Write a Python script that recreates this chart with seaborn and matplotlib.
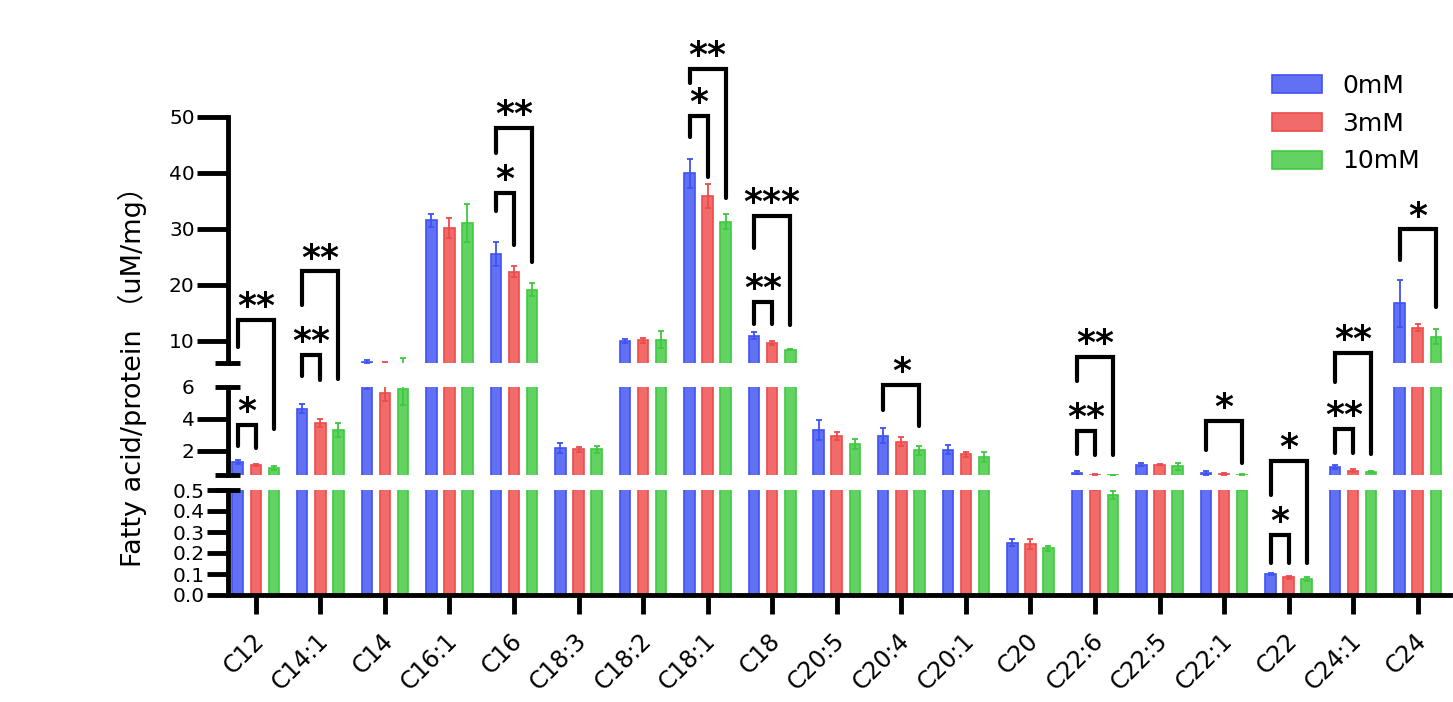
import numpy as np
import pandas as pd
import matplotlib
matplotlib.use("Agg")
import matplotlib.pyplot as plt
import matplotlib.transforms as mtransforms
from matplotlib.colors import to_rgba
import seaborn as sns

# Fatty acid species on the x axis
categories = ["C12", "C14:1", "C14", "C16:1", "C16", "C18:3", "C18:2", "C18:1", "C18",
              "C20:5", "C20:4", "C20:1", "C20", "C22:6", "C22:5", "C22:1", "C22", "C24:1", "C24"]
groups = ["0mM", "3mM", "10mM"]

# Mean values (uM/mg)
mean_0mM = [1.30, 4.65, 6.25, 31.5, 25.5, 2.17, 9.9, 39.9, 10.9,
            3.31, 2.95, 2.08, 0.249, 0.65, 1.15, 0.62, 0.099, 1.00, 16.7]
mean_3mM = [1.11, 3.73, 5.60, 30.2, 22.3, 2.10, 10.05, 35.9, 9.58,
            2.95, 2.57, 1.79, 0.241, 0.53, 1.15, 0.56, 0.084, 0.78, 12.3]
mean_10mM = [0.94, 3.31, 5.85, 31.1, 19.1, 2.10, 10.2, 31.3, 8.4,
             2.42, 2.04, 1.62, 0.222, 0.476, 1.05, 0.52, 0.076, 0.67, 10.7]

# Error bar half-lengths
err_0mM = [0.11, 0.27, 0.35, 1.2, 2.2, 0.30, 0.4, 2.6, 0.65,
           0.64, 0.47, 0.28, 0.016, 0.10, 0.11, 0.11, 0.004, 0.15, 4.2]
err_3mM = [0.05, 0.26, 0.5, 1.8, 1.0, 0.15, 0.45, 2.1, 0.36,
           0.25, 0.28, 0.17, 0.024, 0.03, 0.05, 0.04, 0.008, 0.07, 0.6]
err_10mM = [0.15, 0.45, 1.0, 3.4, 1.2, 0.22, 1.6, 1.4, 0.1,
            0.30, 0.26, 0.32, 0.013, 0.02, 0.21, 0.02, 0.008, 0.06, 1.3]

# Significance brackets: (category, bar i, bar j, top, left leg end, right leg end, label)
# heights are on the broken axis; a tuple forces the segment used for that height
brackets = [
    (0, 0, 1, 3.65, 2.32, 2.19, "*"),
    (0, 0, 2, 13.75, 8.93, 3.40, "**"),
    (1, 0, 2, 22.4, 16.4, ("mid", 6.51), "**"),
    (1, 0, 1, 7.5, ("top", 3.6), ("top", 2.9), "**"),
    (4, 0, 1, 36.4, 33.1, 27.1, "*"),
    (4, 0, 2, 48.0, 43.6, 24.05, "**"),
    (7, 0, 1, 50.2, 46.4, 39.3, "*"),
    (7, 0, 2, 58.6, 56.1, 35.5, "**"),
    (8, 0, 2, 32.3, 26.55, 12.86, "***"),
    (8, 0, 1, 17.0, 13.04, 13.04, "**"),
    (10, 0, 2, ("mid", 6.13), 4.58, 3.59, "*"),
    (13, 0, 2, 7.08, ("mid", 6.38), 1.75, "**"),
    (13, 0, 1, 3.27, 1.79, 1.75, "**"),
    (15, 0, 2, 3.9, 2.04, 1.22, "*"),
    (16, 0, 2, 1.37, ("bot", 0.476), 0.151, "*"),
    (16, 0, 1, 0.286, 0.154, 0.154, "*"),
    (17, 0, 2, 7.8, ("mid", 6.3), 1.83, "**"),
    (17, 0, 1, 3.38, 1.89, 1.89, "**"),
    (18, 0, 2, 29.9, 24.5, 15.95, "*"),
]

sns.set_style("ticks")
plt.rcParams["font.family"] = ["DejaVu Sans", "Noto Sans CJK SC"]
plt.rcParams["text.color"] = "black"
plt.rcParams["axes.edgecolor"] = "black"
plt.rcParams["xtick.color"] = "black"
plt.rcParams["ytick.color"] = "black"

colors = {"0mM": "#3f52f2", "3mM": "#ee4a4a", "10mM": "#3fc93f"}
means = {"0mM": mean_0mM, "3mM": mean_3mM, "10mM": mean_10mM}
errs = {"0mM": err_0mM, "3mM": err_3mM, "10mM": err_10mM}

df = pd.DataFrame({
    "fatty_acid": categories * 3,
    "group": np.repeat(groups, len(categories)),
    "value": mean_0mM + mean_3mM + mean_10mM,
})

W, H = 1453, 702
fig = plt.figure(figsize=(W / 100, H / 100), dpi=100)
left, width = 228 / W, 1222 / W


def rect(y_top, y_bot):
    return [left, 1 - y_bot / H, width, (y_bot - y_top) / H]


ax_top = fig.add_axes(rect(117, 363))
ax_mid = fig.add_axes(rect(387, 475))
ax_bot = fig.add_axes(rect(490, 595))
segments = {"top": ax_top, "mid": ax_mid, "bot": ax_bot}
limits = {"top": (6, 50), "mid": (0.5, 6), "bot": (0, 0.5)}

bar_containers = {}
for name, ax in segments.items():
    sns.barplot(data=df, x="fatty_acid", y="value", hue="group", hue_order=groups,
                palette=colors, errorbar=None, width=0.84, gap=0.42, legend=False, ax=ax)
    bars = list(ax.containers)
    for grp, cont in zip(groups, bars):
        for patch in cont:
            patch.set_facecolor(to_rgba(colors[grp], 0.82))
            patch.set_edgecolor(colors[grp])
            patch.set_linewidth(1.2)
        xs = [p.get_x() + p.get_width() / 2 for p in cont]
        ax.errorbar(xs, means[grp], yerr=errs[grp], fmt="none", ecolor=colors[grp],
                    elinewidth=1.3, capsize=2.5, capthick=1.3)
    bar_containers[name] = bars
    ax.patch.set_visible(False)
    ax.set_xlim(-0.43, len(categories) - 0.5)
    ax.set_ylim(*limits[name])
    ax.set_xlabel("")
    ax.set_ylabel("")
    ax.spines["left"].set_linewidth(3.5)
    ax.spines["bottom"].set_linewidth(3.5)
    ax.tick_params(axis="y", length=22, width=3.5, labelsize=14.5, pad=2)
    if name != "bot":
        sns.despine(ax=ax, bottom=True)
        ax.tick_params(axis="x", bottom=False, labelbottom=False)
    else:
        sns.despine(ax=ax)

ax_top.set_yticks([10, 20, 30, 40, 50])
ax_mid.set_yticks([2, 4, 6])
ax_mid.yaxis.get_major_ticks()[2].tick1line.set_markersize(0)
ax_bot.set_yticks([0.0, 0.1, 0.2, 0.3, 0.4, 0.5])
ax_bot.set_yticklabels([f"{t:.1f}" for t in ax_bot.get_yticks()])
ax_bot.tick_params(axis="y", length=15)
ax_bot.tick_params(axis="x", length=14, width=3.5, labelsize=17, pad=10)
shift = mtransforms.ScaledTranslation(-4 / 100, 0, fig.dpi_scale_trans)
for lab in ax_bot.get_xticklabels():
    lab.set_rotation(45)
    lab.set_ha("right")
    lab.set_rotation_mode("anchor")
    lab.set_transform(lab.get_transform() + shift)

# break marks on the left spine
for ax, yv in [(ax_top, 6), (ax_mid, 6), (ax_mid, 0.5), (ax_bot, 0.5)]:
    trans = mtransforms.blended_transform_factory(ax.transAxes, ax.transData)
    ax.plot([-0.0105, 0.0098], [yv, yv], transform=trans, color="black", lw=3.5,
            clip_on=False, solid_capstyle="butt")


def locate(spec):
    # convert a broken-axis height to ax_top data units
    if isinstance(spec, tuple):
        seg, v = spec
    else:
        v = spec
        seg = "top" if v >= 6 else ("mid" if v >= 0.5 else "bot")
    disp_y = segments[seg].transData.transform((0, v))[1]
    return ax_top.transData.inverted().transform((0, disp_y))[1]


top_bars = bar_containers["top"]
for cat, i, j, top, l_end, r_end, label in brackets:
    p1, p2 = top_bars[i][cat], top_bars[j][cat]
    x1 = p1.get_x() + p1.get_width() / 2
    x2 = p2.get_x() + p2.get_width() / 2
    yt, yl, yr = locate(top), locate(l_end), locate(r_end)
    ax_top.plot([x1, x1, x2, x2], [yl, yt, yt, yr], color="black", lw=3,
                clip_on=False, scalex=False, scaley=False, solid_joinstyle="miter",
                zorder=5)
    ax_top.annotate(label, xy=((x1 + x2) / 2, yt), xytext=(0, 2), textcoords="offset points",
                    ha="center", va="baseline", fontsize=26, fontweight="bold",
                    annotation_clip=False, zorder=5)

handles = [cont[0] for cont in bar_containers["top"]]
fig.legend(handles, groups, loc="upper left", bbox_to_anchor=(1272 / W, 1 - 74 / H),
           frameon=False, fontsize=18, handlelength=2.0, handleheight=0.72,
           handletextpad=0.8, labelspacing=0.55, borderpad=0, borderaxespad=0)

fig.text(132 / W, 1 - 370 / H, "Fatty acid/protein （uM/mg）", rotation=90,
         ha="center", va="center", fontsize=19.5)

fig.savefig("out.png", dpi=100)
